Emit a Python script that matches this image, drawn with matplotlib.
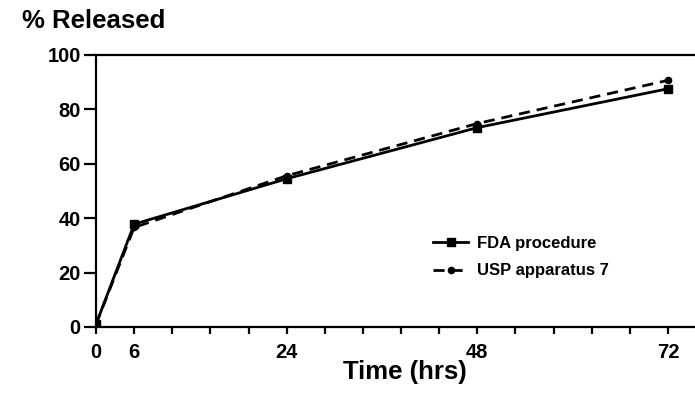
import numpy as np
import matplotlib
matplotlib.use("Agg")
import matplotlib.pyplot as plt

# ---- data ----
time_hrs = [0, 6, 24, 48, 72]
fda_procedure = [1.0, 37.8, 54.5, 73.3, 87.6]
usp_apparatus7 = [1.0, 36.6, 55.6, 74.8, 90.7]
x_tick_labels = ["0", "6", "24", "48", "72"]
y_ticks = [0, 20, 40, 60, 80, 100]

plt.rcParams['font.family'] = ['Liberation Sans', 'DejaVu Sans']
plt.rcParams['font.weight'] = 'bold'

# piecewise-linear axis: the reference places ticks evenly every 4.8 "units",
# with 6 h sitting at the first tick
src = np.array([-1000.0, 0.0, 6.0, 24.0, 1000.0])
dst = np.array([-1000.0, 0.0, 4.8, 24.0, 1000.0])
def fwd(x):
    return np.interp(x, src, dst)
def inv(x):
    return np.interp(x, dst, src)

fig = plt.figure(figsize=(6.95, 3.95), dpi=100)
ax = fig.add_axes([96/695, 1-327/395, 1-96/695, (327-55)/395])
ax.set_xscale('function', functions=(fwd, inv))

ax.plot(time_hrs, fda_procedure, '-', color='black', lw=2.0,
        marker='s', markersize=5.5, label='FDA procedure')
ax.plot(time_hrs, usp_apparatus7, '--', color='black', lw=2.0,
        dashes=(4, 2.5), marker='o', markersize=4.5, label='USP apparatus 7')

ax.set_xlim(0, 75.4)
ax.set_ylim(0, 100)

ax.set_xticks(time_hrs)
ax.set_xticklabels(x_tick_labels)
minor = [inv(4.8 * k) for k in range(16)]
ax.set_xticks(minor, minor=True)
ax.set_yticks(y_ticks)

ax.spines['right'].set_visible(False)
for s in ['left', 'bottom', 'top']:
    ax.spines[s].set_linewidth(1.6)

ax.tick_params(axis='y', direction='out', length=9, width=1.6, pad=2, labelsize=14.5)
ax.tick_params(axis='x', which='both', direction='out', length=5, width=1.6, pad=6.5, labelsize=14.5)

for lab in ax.get_xticklabels() + ax.get_yticklabels():
    lab.set_fontweight('bold')

fig.text(22/695, 1-21/395, '% Released', fontsize=18.5, fontweight='bold',
         ha='left', va='center')
fig.text(405/695, 1-372/395, 'Time (hrs)', fontsize=18.5, fontweight='bold',
         ha='center', va='center')

leg = ax.legend(loc='upper left', bbox_to_anchor=(433/695, 1-236/395),
                bbox_transform=fig.transFigure, frameon=False,
                prop={'weight': 'bold', 'size': 12}, handlelength=2.1,
                handletextpad=0.55, labelspacing=0.75, borderpad=0, borderaxespad=0)

fig.savefig('out.png', dpi=100)
